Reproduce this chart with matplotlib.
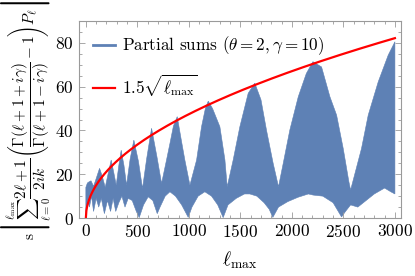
import numpy as np
import matplotlib
matplotlib.use("Agg")
import matplotlib.pyplot as plt
from matplotlib.ticker import MultipleLocator

# upper edge of the partial-sum band
l_up = [0, 15, 30, 50, 75, 100, 133, 160, 188, 215, 246, 270, 295, 320, 343,
        370, 395, 430, 466, 510, 550, 590, 638, 690, 735, 783, 816, 850, 887,
        925, 961, 1010, 1075, 1123, 1160, 1188, 1230, 1301, 1350, 1372, 1430,
        1495, 1576, 1640, 1700, 1754, 1818, 1870, 1916, 1980, 2062, 2140, 2204,
        2288, 2369, 2434, 2498, 2553, 2570, 2676, 2741, 2838, 2935, 3000]
v_up = [14, 16, 16.5, 17, 14.5, 18, 22.7, 19, 14, 20, 26.5, 21, 15, 24, 31,
        24, 15, 27, 35.6, 26, 13.5, 27, 41, 28, 15.8, 26.5, 34, 42, 46.3,
        36, 26.5, 15, 26.5, 41.7, 50, 53.4, 50, 41.7, 26.5, 14.3, 26.5,
        41.7, 57, 61.6, 54, 40, 25, 14.3, 25, 40.2, 55.4, 66, 71.4,
        69, 55.4, 47, 31.8, 16.6, 12.8, 31.8, 47, 62.2, 74.4, 80.5]

# lower edge of the band
l_lo = [0, 20, 35, 55, 75, 100, 125, 150, 180, 210, 240, 265, 290, 320, 350,
        380, 411, 450, 490, 518, 560, 605, 650, 693, 720, 770, 816, 870, 930,
        994, 1030, 1090, 1155, 1220, 1280, 1333, 1380, 1460, 1540, 1592, 1660,
        1730, 1780, 1815, 1870, 1960, 2060, 2160, 2206, 2300, 2400, 2482, 2520,
        2570, 2640, 2720, 2800, 2900, 2960, 3000]
v_lo = [1, 8, 5, 10, 3, 9, 5, 9, 2, 8, 3, 9, 3, 7, 10,
        5, 9, 8, 3, 0.2, 6, 9.7, 8, 2, 5, 10, 12, 10, 6,
        0.3, 5, 10, 12, 10, 6, 0.2, 6, 9, 11, 11, 10,
        7, 4, 0.3, 5, 7.5, 9.5, 11, 10.5, 10, 7, 0.5, 3,
        6, 5, 8, 11, 13.7, 12, 11]

l_fit = np.arange(0, 3001, 5)
coef = 1.5

plt.rcParams["font.family"] = "serif"
plt.rcParams["font.serif"] = ["cmr10"]
plt.rcParams["mathtext.fontset"] = "cm"
plt.rcParams["axes.unicode_minus"] = False
plt.rcParams["axes.formatter.use_mathtext"] = True

c_band = "#5E81B5"
c_frame = "#9a9a9a"

fig = plt.figure(figsize=(4.15, 2.76), dpi=100)
ax = fig.add_axes([0.190, 0.210, 0.776, 0.714])

ax.fill(l_up + l_lo[::-1], v_up + v_lo[::-1], color=c_band, lw=0.4, ec=c_band)
ax.plot([], [], color=c_band, lw=2, label=r"Partial sums $(\theta = 2, \gamma = 10)$")
ax.plot(l_fit, coef * np.sqrt(l_fit), color="red", lw=1.6,
        label=r"$1.5\sqrt{\ell_{\max}}$")

ax.set_xlim(-68, 3058)
ax.set_ylim(0, 90)
ax.xaxis.set_major_locator(MultipleLocator(500))
ax.xaxis.set_minor_locator(MultipleLocator(100))
ax.yaxis.set_major_locator(MultipleLocator(20))
ax.yaxis.set_minor_locator(MultipleLocator(5))
ax.tick_params(which="both", direction="in", top=True, right=True,
               color=c_frame, labelsize=12.5, width=0.6)
ax.tick_params(which="major", length=4)
ax.tick_params(which="minor", length=2.2)
for s in ax.spines.values():
    s.set_color(c_frame)
    s.set_linewidth(0.8)

ax.set_xlabel(r"$\ell_{\max}$", fontsize=14, labelpad=7)
ax.set_ylabel(r"s$\left|\sum_{\ell=0}^{\ell_{\max}}\dfrac{2\ell+1}{2ik}"
              r"\left(\dfrac{\Gamma(\ell+1+i\gamma)}{\Gamma(\ell+1-i\gamma)}-1\right)"
              r"P_\ell\right|$", fontsize=11, labelpad=2)

ax.legend(loc="upper left", frameon=False, fontsize=12.3, handlelength=1.3,
          handletextpad=0.45, labelspacing=0.9, borderaxespad=0.4)

fig.savefig("out.png", dpi=100)
